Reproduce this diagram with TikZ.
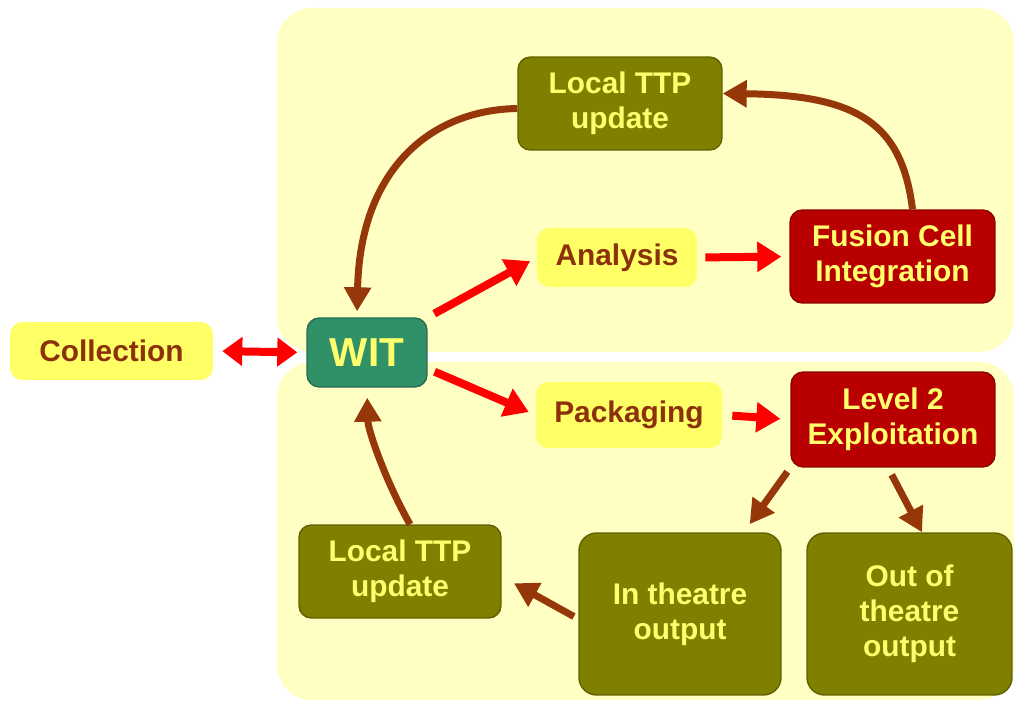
\documentclass[tikz,border=0pt]{standalone}
\usepackage{fontspec}
\setmainfont{Liberation Sans}
\usetikzlibrary{arrows.meta}

\definecolor{panelyellow}{RGB}{255,255,196}
\definecolor{boxyellow}{RGB}{255,255,102}
\definecolor{textbrown}{RGB}{140,50,10}
\definecolor{olivebox}{RGB}{128,128,0}
\definecolor{fusionred}{RGB}{185,0,0}
\definecolor{witgreen}{RGB}{48,145,105}
\definecolor{lighttext}{RGB}{255,255,110}
\definecolor{arrowred}{RGB}{255,0,0}
\definecolor{arrowbrown}{RGB}{150,55,10}

\begin{document}
\begin{tikzpicture}[x=0.02cm, y=-0.02cm,
    box/.style={rounded corners=7pt, align=center, inner sep=0pt,
      font=\bfseries\fontsize{17}{20}\selectfont},
    lightbox/.style={box, fill=boxyellow, text=textbrown},
    darkbox/.style={box, fill=#1, draw=#1!75!black, line width=0.8pt, text=lighttext},
    redarrow/.style={draw=arrowred, line width=0.16cm, -{Triangle[length=0.48cm,width=0.58cm]}},
    brownarrow/.style={draw=arrowbrown, line width=0.14cm, -{Triangle[length=0.48cm,width=0.52cm]}}]
  \useasboundingbox (0,0) rectangle (1018,702);
  % the two background panels
  \foreach \ya/\yb in {8/352, 362/700}
    \fill[panelyellow, rounded corners=0.7cm] (277,\ya) rectangle (1014,\yb);

  \node[lightbox, minimum width=4.06cm, minimum height=1.16cm] (collection) at (111.5,351) {Collection};
  \node[darkbox=witgreen, minimum width=2.4cm, minimum height=1.38cm,
    font=\bfseries\fontsize{23}{26}\selectfont] (wit) at (367,352.5) {WIT};
  \node[darkbox=olivebox, minimum width=4.08cm, minimum height=1.86cm] (ttptop) at (620,103.5) {Local TTP\\update};
  \node[lightbox, minimum width=3.2cm, minimum height=1.18cm] (analysis) at (617,257.5) {Analysis};
  \node[darkbox=fusionred, minimum width=4.1cm, minimum height=1.86cm] (fusion) at (892.5,256.5) {Fusion Cell\\Integration};
  \node[lightbox, minimum width=3.72cm, minimum height=1.32cm] (packaging) at (629,415) {Packaging};
  \node[darkbox=fusionred, minimum width=4.08cm, minimum height=1.9cm] (level2) at (893,419.5) {Level 2\\Exploitation};
  \node[darkbox=olivebox, minimum width=4.04cm, minimum height=1.86cm] (ttpbot) at (400,571.5) {Local TTP\\update};
  \node[darkbox=olivebox, rounded corners=10pt, minimum width=4.04cm, minimum height=3.24cm] (intheatre) at (680,614) {In theatre\\output};
  \node[darkbox=olivebox, rounded corners=10pt, minimum width=4.1cm, minimum height=3.24cm] (outtheatre) at (909.5,614) {Out of\\theatre\\output};

  % feeds into and out of WIT
  \draw[redarrow, {Triangle[length=0.4cm,width=0.56cm]}-{Triangle[length=0.4cm,width=0.56cm]},
    shorten <=0.18cm, shorten >=0.18cm] (collection.east) -- (wit.west);
  \draw[redarrow, shorten <=0.15cm, shorten >=0.15cm] (wit.north east) -- (analysis.west);
  \draw[redarrow, shorten <=0.15cm, shorten >=0.15cm] (wit.-15) -- (packaging.west);
  \draw[redarrow, shorten <=0.16cm, shorten >=0.16cm] (analysis.east) -- (fusion.west);
  \draw[redarrow, shorten <=0.2cm, shorten >=0.2cm] (packaging.east) -- (level2.west);

  % upper loop
  \draw[brownarrow] ([xshift=0.4cm]fusion.north) .. controls (902,125) and (860,95) .. ([yshift=0.2cm]ttptop.east);
  \draw[brownarrow, shorten >=0.12cm] ([yshift=-0.1cm]ttptop.west) .. controls (430,110) and (360,170) .. ([xshift=-0.2cm]wit.north);

  % lower loop
  \draw[brownarrow, shorten <=0.1cm, shorten >=0.2cm] (level2.south west) -- (intheatre.52);
  \draw[brownarrow, shorten <=0.16cm] ([xshift=-0.1cm]level2.south) -- ([xshift=0.25cm]outtheatre.north);
  \draw[brownarrow, shorten <=0.1cm, shorten >=0.28cm] ([yshift=-0.1cm]intheatre.west) -- ([yshift=-0.1cm]ttpbot.east);
  \draw[brownarrow, shorten >=0.2cm] ([xshift=0.2cm]ttpbot.north) .. controls (385,480) and (368,430) .. (wit.south);
\end{tikzpicture}
\end{document}
